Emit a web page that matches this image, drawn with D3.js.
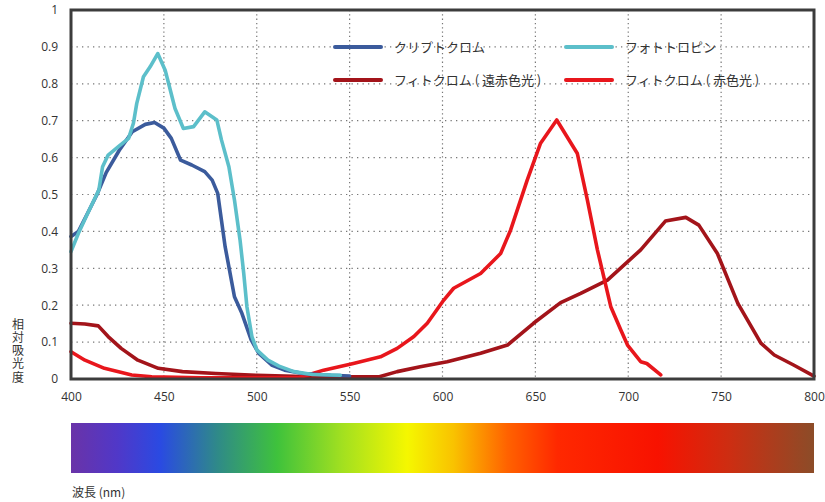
<!DOCTYPE html>
<html>
<head>
<meta charset="utf-8">
<script src="https://cdn.jsdelivr.net/npm/d3@7"></script>
<style>
  body { margin: 0; background: #fff; }
  svg { display: block; }
  text { font-family: "Noto Sans CJK JP", "Noto Sans", sans-serif; fill: #333; }
</style>
</head>
<body>
<svg id="chart" width="825" height="502"></svg>
<script>
// ---- data ----
const xTicks = [400, 450, 500, 550, 600, 650, 700, 750, 800];
const yTicks = [0, 0.1, 0.2, 0.3, 0.4, 0.5, 0.6, 0.7, 0.8, 0.9, 1];
const seriesNames = ["クリプトクロム", "フォトトロピン", "フィトクロム ( 遠赤色光 )", "フィトクロム ( 赤色光 )"];
const seriesColors = ["#3b5b9c", "#5cbfca", "#a3141a", "#e8161c"];

const cryptochrome = [
  [400,0.386],[404,0.40],[409,0.45],[414,0.50],[419,0.56],[426,0.62],[433,0.67],[440,0.69],[445,0.695],
  [450,0.68],[454,0.652],[459,0.593],[465,0.58],[472,0.562],[476,0.539],[479,0.503],[481,0.43],
  [483,0.358],[485,0.304],[488,0.223],[492,0.178],[497,0.106],[501,0.07],[508,0.038],[515,0.024],
  [525,0.015],[540,0.01],[550,0.008]
];
const phototropin = [
  [400,0.345],[404,0.395],[409,0.449],[415,0.512],[417,0.575],[420,0.607],[425.5,0.63],[431,0.652],
  [433.6,0.693],[435.4,0.747],[439,0.819],[442.6,0.846],[446.7,0.882],[450.7,0.837],[453,0.792],
  [456,0.733],[460.5,0.679],[466,0.684],[472,0.724],[478.5,0.702],[481,0.648],[485,0.575],[488,0.485],
  [491,0.377],[493,0.286],[494.7,0.196],[497.4,0.115],[500,0.079],[506,0.051],[512,0.035],
  [520,0.02],[530,0.012],[545,0.01]
];
const phytochromeFarRed = [
  [400,0.151],[407.5,0.149],[414.7,0.144],[420,0.115],[427,0.083],[436,0.051],[447,0.029],[460,0.02],
  [478,0.015],[500,0.01],[530,0.006],[566,0.006],[575.6,0.02],[588,0.033],[602.5,0.047],[620.5,0.07],
  [635,0.092],[649,0.151],[663.6,0.207],[674.4,0.232],[688.8,0.268],[706.7,0.35],[720,0.428],
  [731,0.438],[738,0.417],[748,0.34],[759,0.205],[771.4,0.097],[778.6,0.065],[789,0.038],[800,0.008]
];
const phytochromeRed = [
  [400,0.074],[407.5,0.051],[418,0.029],[432.7,0.011],[443.5,0.006],[470,0.003],[500,0.003],[523,0.004],
  [536,0.024],[552,0.042],[566.6,0.06],[575.6,0.083],[584.6,0.115],[591.8,0.151],[600.7,0.214],
  [606,0.246],[620.5,0.286],[631.3,0.34],[636.7,0.404],[645.6,0.539],[652.8,0.639],[661.5,0.702],
  [672.6,0.611],[678,0.485],[683.4,0.35],[690.6,0.196],[696,0.133],[699.6,0.092],[706.7,0.047],
  [710,0.042],[717.5,0.011]
];
const spectrumStops = [
  [400,"#6a33a8"],[425,"#5038c8"],[448,"#2a4ae2"],[479,"#2f8a88"],[511,"#3fc23c"],[546,"#a2e020"],
  [581,"#f5f700"],[606,"#f9c200"],[635,"#ff6200"],[662,"#ff2800"],[716,"#f81200"],[755,"#cc2e12"],[800,"#8c4c28"]
];

// ---- layout ----
const svg = d3.select("#chart");
const mLeft = 71, mRight = 814, mTop = 10, mBottom = 379;
const x = d3.scaleLinear().domain([400, 800]).range([mLeft, mRight]);
const y = d3.scaleLinear().domain([0, 1]).range([mBottom, mTop]);

// grid
const grid = svg.append("g");
grid.selectAll("line.h").data(yTicks.filter(v => v > 0 && v < 1)).enter().append("line")
  .attr("x1", mLeft).attr("x2", mRight).attr("y1", d => y(d)).attr("y2", d => y(d))
  .attr("stroke", "#777").attr("stroke-width", 1.2).attr("stroke-dasharray", "1.3,4.2");
grid.selectAll("line.v").data(xTicks.filter(v => v > 400 && v < 800)).enter().append("line")
  .attr("x1", d => x(d)).attr("x2", d => x(d)).attr("y1", mTop).attr("y2", mBottom)
  .attr("stroke", "#777").attr("stroke-width", 1.2).attr("stroke-dasharray", "1.3,3");

// curves
const line = d3.line().x(d => x(d[0])).y(d => y(d[1]));
const allSeries = [cryptochrome, phototropin, phytochromeFarRed, phytochromeRed];
const drawOrder = [2, 3, 0, 1];
drawOrder.forEach(i => {
  svg.append("path").datum(allSeries[i]).attr("d", line)
    .attr("fill", "none").attr("stroke", seriesColors[i]).attr("stroke-width", 3.6)
    .attr("stroke-linejoin", "round").attr("stroke-linecap", "round");
});

// frame
svg.append("rect").attr("x", mLeft).attr("y", mTop).attr("width", mRight - mLeft).attr("height", mBottom - mTop)
  .attr("fill", "none").attr("stroke", "#3c3c3c").attr("stroke-width", 3);

// axes labels
const xAxis = d3.axisBottom(x).tickValues(xTicks).tickSize(0).tickPadding(13).tickFormat(d3.format("d"));
const gx = svg.append("g").attr("transform", `translate(0,${mBottom})`).call(xAxis);
gx.select(".domain").remove();
gx.selectAll("text").style("font-size", "12px").style("font-family", "'Open Sans', 'Noto Sans', sans-serif").attr("fill", "#333");

const yAxis = d3.axisLeft(y).tickValues(yTicks).tickSize(0).tickPadding(13).tickFormat(d => d === 0 || d === 1 ? String(d) : d3.format(".1f")(d));
const gy = svg.append("g").attr("transform", `translate(${mLeft},0)`).call(yAxis);
gy.select(".domain").remove();
gy.selectAll("text").style("font-size", "12px").style("font-family", "'Open Sans', 'Noto Sans', sans-serif").attr("fill", "#333");

// y title, vertical writing
svg.append("text").attr("x", 18).attr("y", 318)
  .style("writing-mode", "vertical-rl").style("font-size", "12px").style("letter-spacing", "1.3px")
  .text("相対吸光度");

// legend
const legendPos = [[335, 47], [566, 47], [335, 80], [566, 80]];
seriesNames.forEach((name, i) => {
  const [lx, ly] = legendPos[i];
  svg.append("line").attr("x1", lx).attr("x2", lx + 46).attr("y1", ly).attr("y2", ly)
    .attr("stroke", seriesColors[i]).attr("stroke-width", 4).attr("stroke-linecap", "round");
  svg.append("text").attr("x", lx + 59).attr("y", ly + 4.5).style("font-size", "13px").text(name);
});

// spectrum bar
const defs = svg.append("defs");
const grad = defs.append("linearGradient").attr("id", "spec").attr("x1", "0%").attr("x2", "100%");
grad.selectAll("stop").data(spectrumStops).enter().append("stop")
  .attr("offset", d => ((d[0] - 400) / 400 * 100) + "%").attr("stop-color", d => d[1]);
svg.append("rect").attr("x", x(400)).attr("y", 423).attr("width", x(800) - x(400)).attr("height", 50)
  .attr("fill", "url(#spec)");
svg.append("text").attr("x", 72).attr("y", 497).style("font-size", "12px").text("波長 (nm)");
</script>
</body>
</html>
